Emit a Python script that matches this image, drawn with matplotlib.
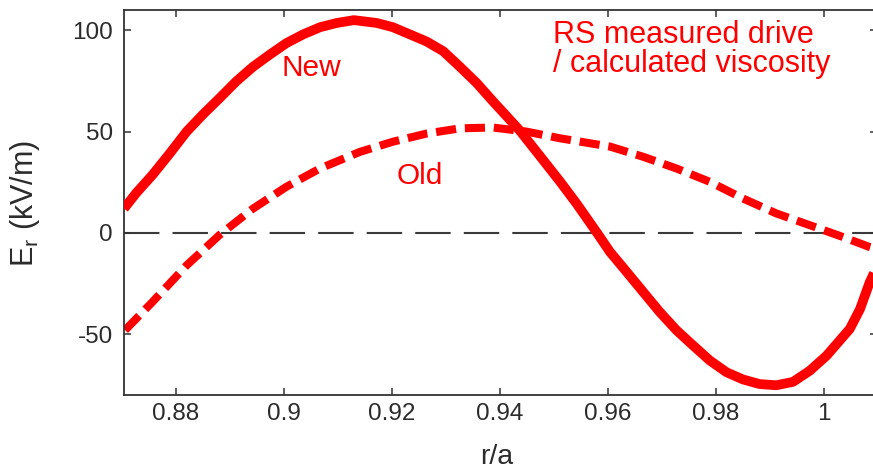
import matplotlib
matplotlib.use("Agg")
import matplotlib.pyplot as plt

plt.rcParams['font.family'] = ['Liberation Sans', 'DejaVu Sans']
plt.rcParams['mathtext.fontset'] = 'custom'
plt.rcParams['mathtext.rm'] = 'Liberation Sans'
plt.rcParams['mathtext.it'] = 'Liberation Sans'

# ---- data ----
new_r = [0.8704, 0.8727, 0.8757, 0.8789, 0.882, 0.885, 0.8881, 0.8912, 0.8943,
         0.8974, 0.9005, 0.9036, 0.9067, 0.9098, 0.913, 0.9172, 0.9202, 0.9233,
         0.9264, 0.9295, 0.9326, 0.9357, 0.9387, 0.9406, 0.9437, 0.948, 0.9511,
         0.9542, 0.958, 0.9604, 0.9635, 0.9665, 0.9696, 0.9727, 0.9758, 0.9789,
         0.982, 0.985, 0.9881, 0.9912, 0.9943, 0.9974, 1.0005, 1.0048, 1.0067,
         1.0085, 1.0098]
new_er = [12, 19.8, 28.7, 39.3, 50, 58.4, 66.5, 74.8, 82,
          88, 93.7, 98, 101.5, 103.6, 105, 103.6, 101.5, 98,
          94.5, 89.7, 82, 74, 65, 59.5, 50.5, 36, 25.5,
          14.5, 0, -9.4, -19.3, -29, -39, -48, -55.6, -63,
          -68.8, -72.3, -74.6, -75.2, -73.5, -68, -60.6, -47.4, -37.6,
          -24.3, -17]

old_r = [0.8706, 0.8757, 0.882, 0.8881, 0.8943, 0.9005, 0.9067, 0.9141, 0.9202,
         0.9264, 0.9326, 0.9387, 0.9449, 0.9511, 0.9604, 0.9665, 0.9727, 0.9789,
         0.985, 0.9912, 0.9974, 1.0035, 1.0085, 1.0098]
old_er = [-48, -34, -16, -1, 12, 22.8, 31.8, 40, 45,
          49, 51.6, 52, 50, 46.7, 42.6, 37.6, 31.8, 25.2,
          17, 9.6, 3.8, -2, -7, -8]

x_ticks = [0.88, 0.9, 0.92, 0.94, 0.96, 0.98, 1.0]
x_tick_labels = ['0.88', '0.9', '0.92', '0.94', '0.96', '0.98', '1']
y_ticks = [-50, 0, 50, 100]
y_tick_labels = ['-50', '0', '50', '100']

W, H = 873, 469
fig = plt.figure(figsize=(W / 100, H / 100), dpi=100)
xlim = (0.8704, 1.0098)
px_per_unit = 5400.0
left_px, top_px, bot_px = 124, 10, 395
width_px = (xlim[1] - xlim[0]) * px_per_unit
ax = fig.add_axes([left_px / W, (H - bot_px) / H, width_px / W, (bot_px - top_px) / H])

red = '#ff0000'
ax.axhline(0, color='#3a3a3a', lw=1.5, linestyle=(0, (17, 6.3)), zorder=1)
ax.plot(new_r, new_er, color=red, lw=7, solid_capstyle='butt',
        solid_joinstyle='round', zorder=3)
ax.plot(old_r, old_er, color=red, lw=5.8, linestyle=(0, (2.5, 1.1)),
        dash_capstyle='butt', dash_joinstyle='round', zorder=2)

ax.set_xlim(*xlim)
ax.set_ylim(-80, 110)
ax.set_xticks(x_ticks)
ax.set_xticklabels(x_tick_labels)
ax.set_yticks(y_ticks)
ax.set_yticklabels(y_tick_labels)

tick_color = '#2b2b2b'
ax.tick_params(direction='in', length=5, width=1.1, color='#333333',
               labelsize=17.5, labelcolor=tick_color, top=True, right=True)
ax.tick_params(axis='x', pad=6)
ax.tick_params(axis='y', pad=8)
for s in ax.spines.values():
    s.set_color('#333333')
    s.set_linewidth(1.3)

ax.text(0.9051, 81.5, 'New', color=red, fontsize=21.5, ha='center', va='center')
ax.text(0.9252, 28.2, 'Old', color=red, fontsize=21.5, ha='center', va='center')
ax.text(0.9498, 105, 'RS measured drive\n/ calculated viscosity', color=red,
        fontsize=22, ha='left', va='top', linespacing=0.95)

fig.text(25 / W, 1 - 203 / H, r'E$_\mathrm{r}$ (kV/m)', rotation=90,
         ha='center', va='center', fontsize=22, color=tick_color)
fig.text(497 / W, 1 - 457 / H, 'r/a', ha='center', va='center',
         fontsize=20.5, color=tick_color)

fig.savefig('out.png', dpi=100)
